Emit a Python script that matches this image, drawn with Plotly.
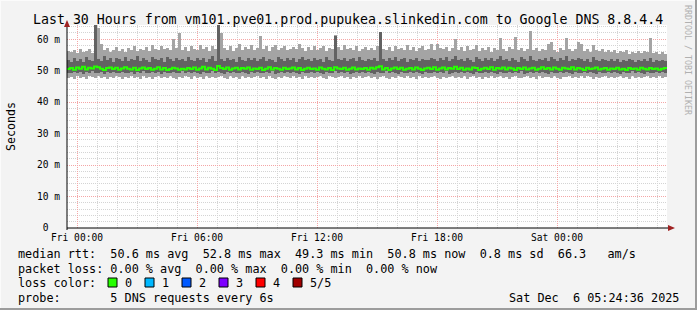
import plotly.graph_objects as go
import pandas as pd

# ---------------- data (ms, stored in tenths of a millisecond) ----------------
START = "2025-12-04 23:30"
END = "2025-12-06 05:30"
STEP = "9min"

PING_MAX = [
    561, 558, 565, 556, 570, 559, 562, 568, 555, 650, 635, 585, 566, 571, 560, 567, 574, 563, 569, 558,
    572, 566, 578, 561, 570, 565, 575, 562, 580, 569, 564, 577, 568, 573, 566, 600, 571, 620, 567, 574,
    563, 579, 570, 566, 582, 568, 575, 561, 577, 569, 650, 620, 572, 566, 579, 563, 571, 584, 567, 575,
    569, 580, 565, 573, 610, 568, 577, 562, 574, 581, 566, 572, 578, 564, 570, 576, 568, 585, 571, 563,
    574, 567, 579, 565, 571, 577, 562, 573, 568, 613, 575, 564, 580, 569, 572, 566, 578, 563, 570, 576,
    567, 573, 565, 579, 623, 570, 566, 574, 561, 578, 569, 572, 564, 580, 567, 575, 562, 571, 577, 566,
    570, 585, 564, 585, 573, 568, 576, 562, 571, 600, 567, 574, 561, 578, 566, 570, 580, 563, 572, 567,
    575, 560, 571, 566, 604, 569, 563, 574, 568, 607, 565, 572, 561, 570, 625, 566, 573, 562, 569, 564,
    585, 590, 567, 560, 571, 565, 604, 568, 562, 570, 590, 585, 563, 569, 560, 580, 566, 561, 568, 558,
    564, 559, 567, 556, 562, 558, 565, 553, 560, 557, 563, 555, 561, 558, 604, 556, 560, 552, 558, 554,
]
PING_HIGH = [
    535, 528, 540, 532, 537, 529, 543, 534, 530, 650, 538, 531, 545, 533, 539, 527, 541, 536, 532, 544,
    530, 538, 534, 546, 531, 540, 535, 529, 542, 537, 533, 539, 528, 544, 536, 531, 540, 534, 538, 530,
    543, 535, 531, 539, 534, 541, 529, 537, 545, 532, 650, 536, 531, 540, 534, 538, 529, 543, 535, 532,
    539, 533, 541, 530, 537, 544, 532, 538, 535, 529, 542, 536, 531, 539, 534, 540, 528, 537, 543, 533,
    536, 531, 540, 534, 538, 529, 543, 535, 532, 610, 537, 533, 541, 530, 536, 539, 532, 544, 535, 531,
    538, 534, 540, 530, 623, 537, 532, 539, 535, 543, 531, 536, 540, 529, 538, 534, 541, 532, 537, 535,
    533, 540, 536, 531, 539, 534, 542, 530, 537, 545, 533, 538, 531, 540, 535, 529, 543, 536, 532, 539,
    534, 541, 530, 537, 546, 533, 538, 531, 540, 535, 529, 543, 536, 532, 547, 534, 530, 538, 535, 541,
    532, 544, 536, 531, 539, 534, 545, 530, 537, 533, 540, 536, 531, 538, 529, 542, 535, 532, 537, 533,
    530, 536, 532, 538, 529, 535, 531, 537, 533, 528, 534, 530, 536, 532, 540, 529, 533, 531, 535, 530,
]
MEDIAN = [
    505, 508, 503, 510, 506, 512, 504, 509, 507, 513, 511, 506, 502, 508, 510, 505, 509, 503, 507, 511,
    506, 504, 509, 502, 507, 510, 505, 508, 503, 506, 511, 504, 508, 502, 505, 509, 507, 503, 506, 504,
    508, 505, 510, 503, 507, 512, 504, 509, 506, 502, 515, 508, 505, 510, 503, 507, 509, 504, 508, 506,
    510, 503, 507, 505, 509, 502, 506, 511, 504, 508, 506, 503, 509, 505, 507, 510, 504, 508, 502, 506,
    509, 505, 507, 503, 510, 506, 504, 508, 502, 511, 507, 505, 509, 503, 506, 510, 504, 507, 505, 508,
    503, 509, 506, 511, 514, 504, 508, 502, 507, 510, 505, 509, 503, 506, 508, 504, 510, 506, 502, 507,
    509, 505, 511, 503, 507, 510, 504, 508, 506, 512, 505, 509, 503, 507, 504, 510, 508, 502, 506, 509,
    505, 511, 503, 508, 506, 510, 504, 509, 507, 502, 508, 505, 510, 504, 507, 509, 503, 506, 511, 505,
    508, 504, 510, 506, 503, 509, 507, 505, 511, 504, 508, 506, 502, 509, 505, 507, 510, 504, 506, 508,
    503, 507, 505, 509, 504, 506, 502, 508, 505, 507, 503, 509, 506, 504, 508, 505, 507, 503, 506, 508,
]
PING_LOW = [
    494, 491, 496, 492, 497, 490, 495, 493, 498, 491, 494, 496, 490, 495, 492, 497, 493, 491, 496, 494,
    492, 497, 490, 495, 493, 498, 491, 494, 496, 492, 495, 490, 497, 493, 491, 496, 494, 492, 498, 493,
    495, 491, 496, 493, 490, 497, 492, 494, 498, 491, 495, 493, 490, 496, 492, 497, 494, 491, 495, 493,
    490, 496, 492, 497, 494, 491, 495, 493, 498, 490, 494, 496, 492, 495, 491, 497, 493, 490, 496, 494,
    492, 497, 491, 495, 493, 490, 496, 494, 492, 498, 491, 495, 493, 497, 490, 494, 496, 492, 495, 491,
    497, 493, 490, 496, 494, 492, 498, 491, 495, 493, 490, 497, 492, 494, 496, 491, 495, 493, 490, 497,
    494, 492, 496, 491, 495, 493, 498, 490, 494, 496, 492, 497, 491, 495, 493, 490, 496, 494, 492, 497,
    491, 495, 493, 490, 496, 494, 492, 497, 491, 495, 493, 498, 490, 494, 496, 492, 495, 491, 497, 493,
    490, 496, 494, 492, 497, 491, 495, 493, 490, 496, 492, 494, 497, 491, 495, 493, 490, 496, 494, 492,
    497, 491, 495, 493, 490, 496, 492, 494, 498, 491, 495, 493, 490, 497, 492, 494, 496, 491, 495, 493,
]
PING_MIN = [
    478, 481, 475, 483, 477, 480, 474, 482, 479, 476, 484, 478, 481, 475, 480, 477, 483, 479, 474, 481,
    477, 482, 476, 480, 474, 483, 478, 481, 475, 479, 484, 477, 480, 476, 482, 478, 474, 481, 477, 483,
    479, 475, 482, 478, 480, 474, 483, 477, 481, 476, 479, 484, 478, 475, 482, 477, 480, 474, 483, 478,
    481, 476, 479, 483, 477, 480, 475, 482, 478, 474, 481, 477, 484, 479, 476, 482, 478, 480, 475, 483,
    477, 481, 476, 479, 483, 478, 474, 482, 480, 476, 479, 484, 477, 481, 475, 480, 478, 483, 476, 479,
    482, 477, 480, 475, 479, 483, 478, 474, 481, 477, 484, 479, 476, 482, 478, 480, 475, 483, 477, 481,
    476, 480, 483, 478, 475, 481, 477, 479, 484, 476, 480, 478, 482, 475, 479, 483, 477, 481, 474, 480,
    478, 482, 476, 480, 483, 477, 479, 475, 481, 484, 478, 476, 480, 482, 477, 479, 474, 483, 478, 481,
    480, 476, 482, 478, 475, 481, 479, 483, 477, 480, 476, 482, 478, 484, 479, 475, 481, 477, 480, 483,
    478, 481, 476, 479, 483, 477, 480, 475, 482, 478, 481, 476, 479, 484, 477, 480, 478, 482, 476, 479,
]

Y_TICKS = [0, 10, 20, 30, 40, 50, 60]
Y_TICK_TEXT = ["0\u00a0\u00a0", "10 m", "20 m", "30 m", "40 m", "50 m", "60 m"]
X_TICKS = ["2025-12-05 00:00", "2025-12-05 06:00", "2025-12-05 12:00",
           "2025-12-05 18:00", "2025-12-06 00:00"]
X_TICK_TEXT = ["Fri 00:00", "Fri 06:00", "Fri 12:00", "Fri 18:00", "Sat 00:00"]

TITLE = "Last 30 Hours from vm101.pve01.prod.pupukea.slinkedin.com to Google DNS 8.8.4.4"
LEGEND_LINES = [
    "median rtt:  50.6 ms avg  52.8 ms max  49.3 ms min  50.8 ms now  0.8 ms sd  66.3   am/s",
    "packet loss: 0.00 % avg  0.00 % max  0.00 % min  0.00 % now",
    "loss color:",
    "probe:       5 DNS requests every 6s",
]
LOSS_LABELS = ["0", "1", "2", "3", "4", "5/5"]
LOSS_COLORS = ["#26ff00", "#00b8ff", "#0059ff", "#7e00ff", "#ff0000", "#a10000"]
STAMP = "Sat Dec  6 05:24:36 2025"

# ---------------- figure ----------------
W, H = 697, 310
L, R, T, B = 67, 667, 25, 228   # plot area in pixels
MONO = "DejaVu Sans Mono"
LEG_SIZE = 11.8


def px(x):
    return (x - L) / (R - L)


def py(y):
    return (B - y) / (B - T)


def nb(s):
    return s.replace(" ", "\u00a0")


times = pd.date_range(START, periods=len(MEDIAN), freq=STEP)
step_ms = pd.Timedelta(STEP).total_seconds() * 1000

mx = [v / 10 for v in PING_MAX]
hi = [v / 10 for v in PING_HIGH]
md = [v / 10 for v in MEDIAN]
lo = [v / 10 for v in PING_LOW]
mn = [v / 10 for v in PING_MIN]

fig = go.Figure()
fig.add_trace(go.Bar(
    x=times, base=mn, y=[a - b for a, b in zip(mx, mn)],
    width=step_ms, offset=0, marker=dict(color="#a4a4a4", line=dict(width=0)),
    hoverinfo="skip"))
fig.add_trace(go.Bar(
    x=times, base=lo, y=[a - b for a, b in zip(hi, lo)],
    width=step_ms, offset=0, marker=dict(color="#626262", line=dict(width=0)),
    hoverinfo="skip"))
fig.add_trace(go.Scatter(
    x=list(times) + [times[-1] + pd.Timedelta(STEP)], y=md + [md[-1]],
    mode="lines", line=dict(color="#26ff00", width=2, shape="hv"), hoverinfo="skip"))

fig.update_layout(
    width=W, height=H, showlegend=False, barmode="overlay", bargap=0,
    margin=dict(l=L, r=W - R, t=T, b=H - B, pad=0),
    paper_bgcolor="#f3f3f3", plot_bgcolor="#ffffff",
    font=dict(family=MONO, color="#000000"),
)
fig.update_xaxes(
    type="date", range=[START, END],
    tickvals=X_TICKS, ticktext=X_TICK_TEXT, ticks="",
    tickfont=dict(family=MONO, size=9.6, color="#000000"),
    ticklabelstandoff=2,
    showgrid=True, gridcolor="#f4a6a6", griddash="1px,1px", gridwidth=1,
    minor=dict(dtick=3600000, tick0="2025-12-05 00:00", showgrid=True,
               gridcolor="#d4d4d4", griddash="1px,1px", gridwidth=1),
    showline=False, zeroline=False, fixedrange=True,
)
fig.update_yaxes(
    range=[0, 64.5], tickvals=Y_TICKS, ticktext=Y_TICK_TEXT, ticks="",
    tickfont=dict(family=MONO, size=9.6, color="#000000"),
    ticklabelstandoff=6,
    showgrid=True, gridcolor="#f4a6a6", griddash="1px,1px", gridwidth=1,
    minor=dict(dtick=2, showgrid=True, gridcolor="#d4d4d4",
               griddash="1px,1px", gridwidth=1),
    showline=False, zeroline=False, fixedrange=True,
)

shapes = [
    # axes lines
    dict(type="line", xref="paper", yref="paper", x0=px(L), x1=px(670), y0=py(B), y1=py(B),
         line=dict(color="#000000", width=1)),
    dict(type="line", xref="paper", yref="paper", x0=px(L), x1=px(L), y0=py(230), y1=py(25),
         line=dict(color="#000000", width=1)),
    # arrows
    dict(type="path", xref="paper", yref="paper",
         path=f"M {px(668)},{py(225)} L {px(675)},{py(B)} L {px(668)},{py(231)} Z",
         fillcolor="#a02222", line=dict(width=0)),
    dict(type="path", xref="paper", yref="paper",
         path=f"M {px(64)},{py(27)} L {px(L)},{py(20)} L {px(70)},{py(27)} Z",
         fillcolor="#a02222", line=dict(width=0)),
    # 3D frame
    dict(type="line", xref="paper", yref="paper", x0=px(0), x1=px(W), y0=py(0.5), y1=py(0.5),
         line=dict(color="#fbfbfb", width=1)),
    dict(type="line", xref="paper", yref="paper", x0=px(0.5), x1=px(0.5), y0=py(0), y1=py(H),
         line=dict(color="#fbfbfb", width=1)),
    dict(type="line", xref="paper", yref="paper", x0=px(0), x1=px(W), y0=py(H - 1), y1=py(H - 1),
         line=dict(color="#9c9c9c", width=2)),
    dict(type="line", xref="paper", yref="paper", x0=px(W - 1), x1=px(W - 1), y0=py(0), y1=py(H),
         line=dict(color="#9c9c9c", width=2)),
]

annotations = [
    dict(text=nb(TITLE), x=px(348), y=py(19), xref="paper", yref="paper",
         xanchor="center", yanchor="middle", showarrow=False,
         font=dict(family=MONO, size=13.25, color="#000000")),
    dict(text="Seconds", x=px(11), y=py(127), xref="paper", yref="paper",
         xanchor="center", yanchor="middle", showarrow=False, textangle=-90,
         font=dict(family=MONO, size=11.6, color="#000000")),
    dict(text=nb("RRDTOOL / TOBI OETIKER"), x=px(688), y=py(60), xref="paper", yref="paper",
         xanchor="center", yanchor="middle", showarrow=False, textangle=90,
         font=dict(family=MONO, size=8.3, color="#b0b0b0")),
    dict(text=nb(STAMP), x=px(681), y=py(297.5), xref="paper", yref="paper",
         xanchor="right", yanchor="middle", showarrow=False,
         font=dict(family=MONO, size=LEG_SIZE, color="#000000")),
]
for line, yc in zip(LEGEND_LINES, [253.5, 268.5, 283, 297.5]):
    annotations.append(dict(text=nb(line), x=px(16), y=py(yc), xref="paper", yref="paper",
                            xanchor="left", yanchor="middle", showarrow=False,
                            font=dict(family=MONO, size=LEG_SIZE, color="#000000")))

box_x = [108, 145, 182, 219, 256, 293]
for bx, lab, col in zip(box_x, LOSS_LABELS, LOSS_COLORS):
    shapes.append(dict(type="rect", xref="paper", yref="paper",
                       x0=px(bx), x1=px(bx + 9), y0=py(287), y1=py(278),
                       fillcolor=col, line=dict(color="#000000", width=1)))
    annotations.append(dict(text=lab, x=px(bx + 15), y=py(283), xref="paper", yref="paper",
                            xanchor="left", yanchor="middle", showarrow=False,
                            font=dict(family=MONO, size=LEG_SIZE, color="#000000")))

fig.update_layout(shapes=shapes, annotations=annotations)
fig.write_html("out.html")
